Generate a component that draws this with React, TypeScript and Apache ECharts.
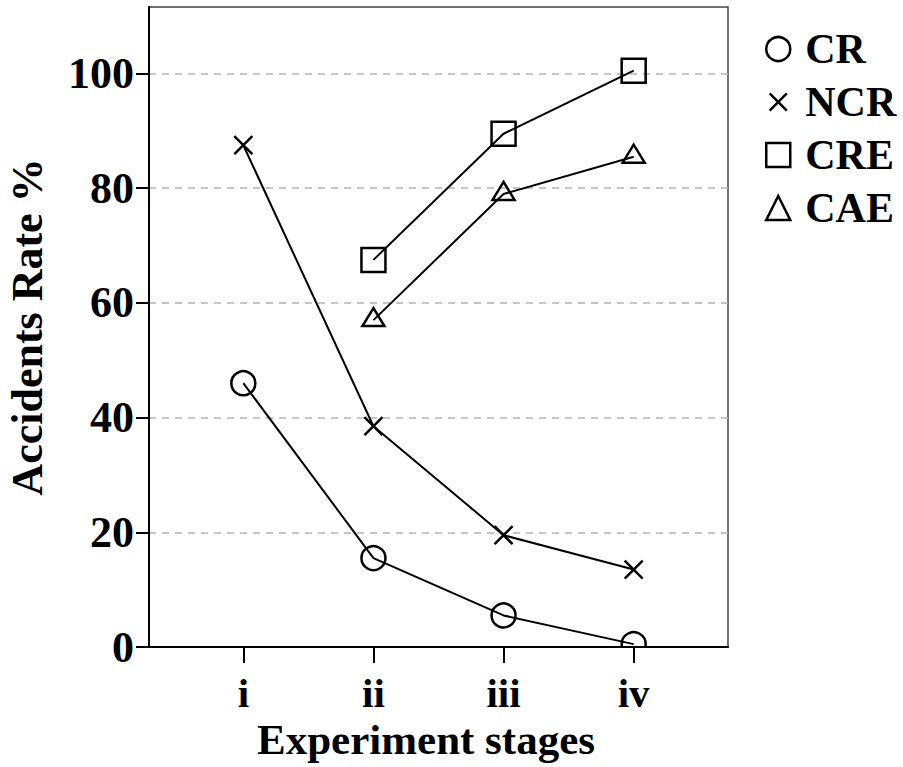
import React, { useEffect, useRef } from "react";
import * as echarts from "echarts";

const stageLabels = ["i", "ii", "iii", "iv"];
const stageValues = [1, 2, 3, 4];
const crValues = [46, 15.5, 5.5, 0.5];
const ncrValues = [87.5, 38.5, 19.5, 13.5];
const creValues: (number | null)[] = [null, 67.5, 89.5, 100.5];
const caeValues: (number | null)[] = [null, 57, 79, 85.5];
const yTicks = [0, 20, 40, 60, 80, 100];

const FONT = '"Times New Roman", "Liberation Serif", serif';
const CROSS = "path://M-2,-2M0,0L10,10M10,0L0,10M12,12";

function pairs(vals: (number | null)[]) {
  const out: number[][] = [];
  vals.forEach((v, i) => {
    if (v !== null) out.push([stageValues[i], v]);
  });
  return out;
}

function markerSeries(name: string, kind: string, vals: (number | null)[]) {
  return {
    name,
    type: "custom",
    clip: true,
    z: 3,
    silent: true,
    encode: { x: 0, y: 1 },
    data: pairs(vals),
    renderItem: (params: any, api: any) => {
      const p = api.coord([api.value(0), api.value(1)]);
      const style = { fill: "none", stroke: "#000", lineWidth: 2.5 };
      if (kind === "circle") {
        return { type: "circle", shape: { cx: p[0], cy: p[1], r: 12 }, style };
      }
      if (kind === "rect") {
        return { type: "rect", shape: { x: p[0] - 12, y: p[1] - 12, width: 24, height: 24 }, style };
      }
      if (kind === "triangle") {
        return {
          type: "polygon",
          shape: { points: [[p[0], p[1] - 12], [p[0] + 11, p[1] + 6], [p[0] - 11, p[1] + 6]] },
          style,
        };
      }
      return {
        type: "group",
        children: [
          { type: "line", shape: { x1: p[0] - 9, y1: p[1] - 9, x2: p[0] + 9, y2: p[1] + 9 }, style },
          { type: "line", shape: { x1: p[0] + 9, y1: p[1] - 9, x2: p[0] - 9, y2: p[1] + 9 }, style },
        ],
      };
    },
  };
}

function lineSeries(name: string, vals: (number | null)[]) {
  return {
    name,
    type: "line",
    data: pairs(vals),
    symbol: "none",
    silent: true,
    z: 2,
    lineStyle: { color: "#000", width: 2 },
    itemStyle: { color: "transparent", borderColor: "#000", borderWidth: 2.5 },
  };
}

export default function App() {
  const ref = useRef<HTMLDivElement>(null);
  useEffect(() => {
    if (!ref.current) return;
    const chart = echarts.init(ref.current, null, { renderer: "svg" });
    chart.setOption({
      animation: false,
      backgroundColor: "#fff",
      grid: {
        left: 149,
        right: 175,
        top: 7,
        bottom: 120,
        show: true,
        containLabel: false,
        outerBoundsMode: "none",
        borderColor: "#444",
        borderWidth: 1.5,
        backgroundColor: "transparent",
      },
      legend: {
        orient: "vertical",
        left: 760,
        top: 23,
        itemWidth: 24,
        itemHeight: 24,
        itemGap: 11,
        selectedMode: false,
        itemStyle: { color: "transparent", borderColor: "#000", borderWidth: 2.5 },
        textStyle: {
          fontFamily: FONT,
          fontWeight: "bold",
          fontSize: 42,
          lineHeight: 42,
          color: "#000",
          padding: [0, 0, 0, 10],
        },
        data: [
          { name: "CR", icon: "circle" },
          { name: "NCR", icon: CROSS },
          { name: "CRE", icon: "rect" },
          { name: "CAE", icon: "triangle" },
        ],
      },
      xAxis: {
        type: "value",
        min: 0.275,
        max: 4.725,
        name: "Experiment stages",
        nameLocation: "middle",
        nameGap: 66,
        nameTextStyle: {
          fontFamily: FONT,
          fontWeight: "bold",
          fontSize: 43,
          color: "#000",
          padding: [0, 25, 0, 0],
        },
        splitLine: { show: false },
        axisLine: { onZero: false, lineStyle: { color: "#000", width: 2 } },
        axisTick: {
          show: true,
          customValues: stageValues,
          length: 16,
          lineStyle: { color: "#000", width: 2 },
        },
        axisLabel: {
          customValues: stageValues,
          margin: 25,
          fontFamily: FONT,
          fontWeight: "bold",
          fontSize: 41,
          color: "#000",
          formatter: (v: number) => stageLabels[Math.round(v) - 1] ?? "",
        },
      },
      yAxis: {
        type: "value",
        min: 0,
        max: 111.6,
        name: "Accidents Rate %",
        nameLocation: "middle",
        nameGap: 102,
        nameTextStyle: {
          fontFamily: FONT,
          fontWeight: "bold",
          fontSize: 44,
          lineHeight: 40,
          color: "#000",
        },
        axisLine: { show: true, lineStyle: { color: "#000", width: 2 } },
        axisTick: {
          show: true,
          customValues: yTicks,
          length: 13,
          lineStyle: { color: "#000", width: 2 },
        },
        axisLabel: {
          customValues: yTicks,
          margin: 15,
          fontFamily: FONT,
          fontWeight: "bold",
          fontSize: 44,
          color: "#000",
        },
        splitLine: {
          show: true,
          lineStyle: { color: "#b4b4b4", width: 1.5, type: [7, 6] },
        },
        interval: 20,
      },
      series: [
        lineSeries("CR", crValues),
        lineSeries("NCR", ncrValues),
        lineSeries("CRE", creValues),
        lineSeries("CAE", caeValues),
        markerSeries("CR", "circle", crValues),
        markerSeries("NCR", "cross", ncrValues),
        markerSeries("CRE", "rect", creValues),
        markerSeries("CAE", "triangle", caeValues),
      ],
    });
    return () => chart.dispose();
  }, []);
  return (
    <div
      ref={ref}
      style={{ position: "fixed", left: 0, top: 0, width: 903, height: 767, background: "#fff" }}
    />
  );
}
